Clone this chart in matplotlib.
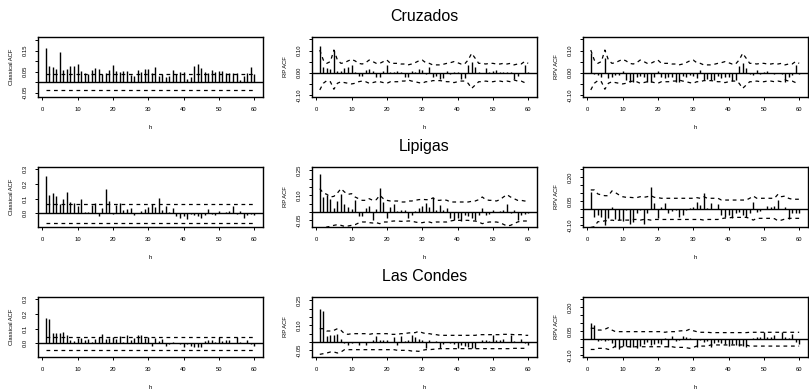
import numpy as np
import matplotlib
matplotlib.use("Agg")
import matplotlib.pyplot as plt

plt.rcParams['font.family'] = ['Liberation Sans', 'DejaVu Sans']

lags = np.arange(1, 61)
series_names = ["Cruzados", "Lipigas", "Las Condes"]

# ---------------- Cruzados ----------------
cruz_classical = [0.165, 0.077, 0.072, 0.065, 0.145, 0.060, 0.062, 0.075, 0.075, 0.089,
                  0.052, 0.042, 0.040, 0.060, 0.069, 0.065, 0.040, 0.042, 0.060, 0.083,
                  0.054, 0.049, 0.052, 0.052, 0.034, 0.029, 0.057, 0.049, 0.065, 0.062,
                  0.045, 0.072, 0.029, 0.038, 0.023, 0.029, 0.057, 0.038, 0.049, 0.049,
                  0.015, 0.023, 0.077, 0.089, 0.066, 0.048, 0.042, 0.058, 0.049, 0.052,
                  0.055, 0.045, 0.042, 0.043, 0.043, 0.011, 0.029, 0.042, 0.071, 0.038]
cruz_ci = 0.037
cruz_rp = [0.120, 0.024, 0.020, 0.015, 0.100, 0.008, 0.009, 0.020, 0.024, 0.035,
           0.003, -0.015, -0.015, 0.012, 0.017, 0.009, -0.021, -0.018, 0.009, 0.035,
           0.005, 0.003, 0.006, 0.005, -0.021, -0.021, 0.009, 0.005, 0.015, 0.012,
           -0.006, 0.024, -0.021, -0.015, -0.030, -0.026, 0.009, -0.006, 0.005, 0.002,
           -0.030, -0.026, 0.035, 0.050, 0.027, 0.005, -0.003, 0.020, 0.005, 0.009,
           0.012, 0.003, 0.002, 0.003, 0.002, -0.030, -0.015, -0.003, 0.035, 0.005]
cruz_rpv = [0.087, -0.006, -0.011, -0.018, 0.065, -0.026, -0.021, -0.011, -0.011, 0.009,
            -0.033, -0.041, -0.041, -0.021, -0.015, -0.021, -0.041, -0.041, -0.021, 0.009,
            -0.021, -0.026, -0.021, -0.021, -0.041, -0.041, -0.015, -0.021, -0.011, -0.015,
            -0.026, 0.012, -0.033, -0.030, -0.033, -0.033, -0.015, -0.026, -0.018, -0.021,
            -0.036, -0.033, 0.030, 0.045, 0.020, -0.006, -0.011, 0.012, -0.006, 0.005,
            0.009, -0.003, -0.006, -0.003, -0.006, -0.041, -0.021, -0.011, 0.035, -0.006]
cruz_up = [0.102, 0.057, 0.042, 0.050, 0.102, 0.057, 0.042, 0.045, 0.053, 0.060,
           0.053, 0.042, 0.039, 0.045, 0.057, 0.050, 0.042, 0.042, 0.050, 0.057,
           0.042, 0.042, 0.042, 0.039, 0.039, 0.035, 0.039, 0.045, 0.053, 0.057,
           0.045, 0.042, 0.035, 0.035, 0.035, 0.038, 0.042, 0.045, 0.050, 0.045,
           0.039, 0.039, 0.057, 0.087, 0.065, 0.042, 0.042, 0.039, 0.042, 0.042,
           0.039, 0.039, 0.042, 0.039, 0.042, 0.035, 0.039, 0.039, 0.050, 0.042]
cruz_lo = [-0.078, -0.048, -0.036, -0.041, -0.075, -0.048, -0.041, -0.045, -0.048, -0.051,
           -0.048, -0.041, -0.038, -0.041, -0.048, -0.045, -0.041, -0.041, -0.045, -0.048,
           -0.041, -0.041, -0.041, -0.038, -0.038, -0.033, -0.038, -0.041, -0.045, -0.048,
           -0.041, -0.041, -0.036, -0.036, -0.036, -0.038, -0.041, -0.041, -0.045, -0.041,
           -0.038, -0.038, -0.048, -0.071, -0.056, -0.041, -0.041, -0.038, -0.041, -0.041,
           -0.038, -0.038, -0.041, -0.038, -0.041, -0.033, -0.038, -0.038, -0.045, -0.041]

# ---------------- Lipigas ----------------
lip_classical = [0.257, 0.125, 0.136, 0.118, 0.064, 0.098, 0.143, 0.080, 0.068, 0.050,
                 0.098, 0.011, 0.011, 0.057, 0.068, -0.018, 0.034, 0.166, 0.084, -0.005,
                 0.057, 0.068, 0.023, 0.027, 0.034, -0.011, 0.002, 0.018, 0.027, 0.045,
                 0.064, 0.045, 0.102, 0.023, 0.050, 0.011, 0.034, -0.018, -0.030, -0.018,
                 -0.041, -0.007, -0.011, -0.018, -0.034, -0.011, 0.030, -0.007, -0.011, 0.016,
                 0.005, 0.011, 0.018, 0.050, -0.007, 0.016, -0.034, -0.011, -0.005, -0.011]
lip_ci = 0.066
lip_rp = [0.230, 0.090, 0.104, 0.080, 0.026, 0.064, 0.110, 0.046, 0.030, 0.016,
          0.070, -0.026, -0.024, 0.026, 0.036, -0.050, 0.020, 0.146, 0.060, -0.034,
          0.030, 0.046, 0.006, 0.010, 0.014, -0.034, -0.020, 0.006, 0.026, 0.034,
          0.054, 0.030, 0.090, 0.010, 0.040, 0.010, 0.026, -0.034, -0.046, -0.034,
          -0.054, -0.020, -0.026, -0.034, -0.050, -0.020, 0.026, -0.020, -0.014, 0.010,
          0.002, 0.006, 0.010, 0.050, -0.006, 0.010, -0.046, -0.020, -0.010, -0.006]
lip_rp_up = [0.140, 0.114, 0.106, 0.090, 0.094, 0.114, 0.140, 0.120, 0.106, 0.110,
             0.090, 0.080, 0.070, 0.070, 0.080, 0.070, 0.074, 0.100, 0.080, 0.070,
             0.066, 0.066, 0.066, 0.060, 0.060, 0.066, 0.066, 0.070, 0.074, 0.076,
             0.074, 0.074, 0.084, 0.070, 0.070, 0.074, 0.070, 0.060, 0.060, 0.060,
             0.060, 0.060, 0.060, 0.064, 0.066, 0.074, 0.090, 0.074, 0.070, 0.070,
             0.066, 0.074, 0.090, 0.104, 0.090, 0.080, 0.070, 0.070, 0.066, 0.066]
lip_rp_lo = [-0.120, -0.106, -0.090, -0.086, -0.080, -0.076, -0.080, -0.086, -0.084, -0.080,
             -0.076, -0.066, -0.060, -0.060, -0.064, -0.066, -0.064, -0.070, -0.060, -0.060,
             -0.056, -0.054, -0.054, -0.056, -0.056, -0.054, -0.054, -0.060, -0.064, -0.064,
             -0.060, -0.060, -0.066, -0.060, -0.060, -0.060, -0.060, -0.054, -0.050, -0.050,
             -0.050, -0.050, -0.050, -0.054, -0.054, -0.060, -0.070, -0.064, -0.060, -0.060,
             -0.060, -0.064, -0.074, -0.084, -0.080, -0.070, -0.060, -0.054, -0.054, -0.054]
lip_rpv = [0.110, -0.050, -0.035, -0.050, -0.098, -0.056, 0.012, -0.062, -0.067, -0.071,
           -0.004, -0.094, -0.077, -0.025, -0.004, -0.094, -0.025, 0.137, 0.042, -0.056,
           0.017, 0.037, -0.021, -0.008, -0.004, -0.050, -0.035, -0.004, 0.006, 0.017,
           0.048, 0.027, 0.100, 0.006, 0.042, 0.002, 0.033, -0.035, -0.046, -0.035,
           -0.056, -0.021, -0.015, -0.035, -0.050, -0.021, 0.048, -0.015, -0.008, 0.002,
           0.021, 0.012, 0.021, 0.058, 0.002, 0.017, -0.062, -0.025, -0.021, -0.025]
lip_rpv_up = [0.121, 0.121, 0.096, 0.090, 0.085, 0.085, 0.115, 0.104, 0.090, 0.079,
              0.075, 0.075, 0.073, 0.073, 0.079, 0.075, 0.079, 0.085, 0.075, 0.073,
              0.069, 0.069, 0.069, 0.069, 0.069, 0.069, 0.069, 0.069, 0.069, 0.069,
              0.073, 0.069, 0.079, 0.069, 0.069, 0.069, 0.069, 0.058, 0.058, 0.058,
              0.058, 0.058, 0.058, 0.058, 0.058, 0.069, 0.083, 0.069, 0.069, 0.069,
              0.069, 0.069, 0.069, 0.094, 0.079, 0.083, 0.069, 0.063, 0.063, 0.063]
lip_rpv_lo = [-0.113, -0.108, -0.077, -0.077, -0.071, -0.071, -0.067, -0.071, -0.067, -0.067,
              -0.067, -0.067, -0.063, -0.063, -0.067, -0.063, -0.063, -0.067, -0.063, -0.063,
              -0.063, -0.063, -0.063, -0.063, -0.063, -0.063, -0.063, -0.063, -0.063, -0.063,
              -0.063, -0.063, -0.067, -0.063, -0.063, -0.063, -0.063, -0.058, -0.054, -0.054,
              -0.050, -0.050, -0.050, -0.050, -0.050, -0.056, -0.067, -0.056, -0.056, -0.056,
              -0.056, -0.056, -0.058, -0.071, -0.067, -0.060, -0.056, -0.056, -0.056, -0.056]

# ---------------- Las Condes ----------------
lc_classical = [0.175, 0.164, 0.073, 0.073, 0.073, 0.080, 0.057, 0.023, 0.016, 0.039,
                0.039, 0.023, 0.030, 0.011, 0.027, 0.041, 0.064, 0.027, 0.039, 0.045,
                0.027, 0.050, 0.011, 0.057, 0.023, 0.034, 0.057, 0.057, 0.039, 0.045,
                -0.018, 0.034, 0.018, 0.027, -0.018, -0.005, 0.011, 0.002, -0.005, -0.027,
                -0.005, -0.018, -0.023, -0.027, -0.027, 0.018, 0.023, 0.023, 0.011, 0.045,
                0.018, 0.023, 0.023, 0.005, 0.045, 0.011, 0.005, 0.023, -0.005, -0.018]
lc_ci = 0.045
lc_rp = [0.200, 0.186, 0.034, 0.040, 0.040, 0.046, 0.020, -0.006, -0.020, -0.006,
         0.002, -0.020, 0.002, -0.020, 0.002, 0.010, 0.034, 0.010, 0.010, 0.014,
         0.002, 0.030, -0.020, 0.034, 0.006, 0.014, 0.040, 0.030, 0.020, 0.014,
         -0.034, 0.014, 0.002, 0.006, -0.034, -0.014, 0.002, -0.006, -0.014, -0.034,
         -0.020, -0.026, -0.030, -0.034, -0.034, 0.002, 0.010, 0.014, 0.006, 0.040,
         0.010, 0.014, 0.020, 0.002, 0.040, 0.006, 0.002, 0.020, -0.006, -0.020]
lc_rp_up = [0.080, 0.080, 0.066, 0.066, 0.070, 0.080, 0.070, 0.050, 0.046, 0.050,
            0.050, 0.050, 0.050, 0.050, 0.046, 0.050, 0.050, 0.050, 0.050, 0.050,
            0.046, 0.046, 0.046, 0.050, 0.050, 0.054, 0.056, 0.056, 0.064, 0.056,
            0.050, 0.050, 0.046, 0.044, 0.040, 0.040, 0.040, 0.040, 0.040, 0.040,
            0.040, 0.040, 0.040, 0.040, 0.040, 0.044, 0.044, 0.044, 0.044, 0.044,
            0.044, 0.044, 0.046, 0.046, 0.046, 0.044, 0.044, 0.044, 0.040, 0.040]
lc_rp_lo = [-0.074, -0.070, -0.066, -0.060, -0.060, -0.066, -0.060, -0.046, -0.046, -0.046,
            -0.046, -0.046, -0.046, -0.046, -0.046, -0.046, -0.046, -0.046, -0.046, -0.046,
            -0.046, -0.046, -0.050, -0.050, -0.050, -0.050, -0.054, -0.054, -0.056, -0.050,
            -0.046, -0.046, -0.044, -0.042, -0.040, -0.040, -0.040, -0.040, -0.040, -0.040,
            -0.040, -0.040, -0.040, -0.040, -0.040, -0.040, -0.040, -0.040, -0.040, -0.040,
            -0.040, -0.040, -0.040, -0.040, -0.040, -0.038, -0.038, -0.038, -0.038, -0.038]
lc_rpv = [0.100, 0.090, -0.008, -0.004, -0.008, -0.004, -0.025, -0.050, -0.062, -0.042,
          -0.042, -0.050, -0.046, -0.056, -0.042, -0.029, -0.015, -0.035, -0.029, -0.021,
          -0.029, 0.006, -0.050, 0.021, -0.008, -0.004, 0.021, 0.017, 0.006, 0.002,
          -0.050, -0.004, -0.015, -0.008, -0.046, -0.021, -0.015, -0.021, -0.029, -0.042,
          -0.029, -0.035, -0.042, -0.042, -0.046, 0.002, 0.006, 0.017, 0.012, 0.048,
          0.012, 0.017, 0.027, 0.002, 0.048, 0.012, 0.006, 0.033, -0.015, -0.029]
lc_rpv_up = [0.069, 0.069, 0.058, 0.058, 0.063, 0.073, 0.058, 0.048, 0.048, 0.048,
             0.048, 0.048, 0.048, 0.048, 0.048, 0.048, 0.048, 0.048, 0.048, 0.048,
             0.048, 0.044, 0.048, 0.048, 0.048, 0.052, 0.054, 0.054, 0.063, 0.054,
             0.048, 0.044, 0.044, 0.044, 0.042, 0.042, 0.042, 0.042, 0.042, 0.042,
             0.042, 0.042, 0.042, 0.042, 0.042, 0.044, 0.044, 0.044, 0.044, 0.044,
             0.044, 0.044, 0.044, 0.044, 0.044, 0.044, 0.044, 0.044, 0.044, 0.044]
lc_rpv_lo = [-0.063, -0.063, -0.056, -0.056, -0.056, -0.063, -0.056, -0.042, -0.050, -0.046,
             -0.046, -0.046, -0.046, -0.046, -0.046, -0.046, -0.046, -0.046, -0.046, -0.046,
             -0.046, -0.046, -0.046, -0.046, -0.050, -0.050, -0.050, -0.052, -0.056, -0.050,
             -0.042, -0.042, -0.042, -0.042, -0.035, -0.035, -0.035, -0.035, -0.035, -0.035,
             -0.035, -0.035, -0.035, -0.035, -0.035, -0.042, -0.042, -0.042, -0.042, -0.042,
             -0.042, -0.042, -0.042, -0.042, -0.042, -0.042, -0.042, -0.042, -0.042, -0.042]

x_ticks = [0, 10, 20, 30, 40, 50, 60]

# ---------------- layout ----------------
W, H = 809, 389
fig = plt.figure(figsize=(W / 100, H / 100), dpi=100)
col_left = [38, 312, 583]
row_top = [37, 167, 297]
aw, ah = 225, 60

DASH = (0, (3, 3))
BAR_LW = 1.0


def make_axes(r, c):
    return fig.add_axes([col_left[c] / W, 1 - (row_top[r] + ah) / H, aw / W, ah / H])


def style(ax, ylim, yticks, ylabs, ylabel):
    ax.set_xlim(-1.2, 62.5)
    ax.set_ylim(*ylim)
    ax.set_xticks(x_ticks)
    ax.set_xticklabels([str(t) for t in x_ticks])
    ax.set_yticks(yticks)
    ax.set_yticklabels(ylabs, rotation=90, va='center')
    ax.tick_params(direction='out', length=2.4, width=0.7, labelsize=4.2, pad=5)
    for s in ax.spines.values():
        s.set_linewidth(1.0)
    ax.set_xlabel("h", fontsize=4.2)
    ax.xaxis.set_label_coords(0.5, -0.46)
    ax.set_ylabel(ylabel, fontsize=4.2)
    ax.yaxis.set_label_coords(-0.105, 0.5)
    ax.axhline(0, color='black', lw=1.0, zorder=2)


panels = [
    (cruz_classical, cruz_ci, cruz_rp, cruz_up, cruz_lo, cruz_rpv, cruz_up, cruz_lo),
    (lip_classical, lip_ci, lip_rp, lip_rp_up, lip_rp_lo, lip_rpv, lip_rpv_up, lip_rpv_lo),
    (lc_classical, lc_ci, lc_rp, lc_rp_up, lc_rp_lo, lc_rpv, lc_rpv_up, lc_rpv_lo),
]

cls_ylim = [(-0.070, 0.215), (-0.093, 0.316), (-0.093, 0.316)]
cls_ticks = [([-0.05, 0.0, 0.05, 0.10, 0.15, 0.20], [-0.05, 0.05, 0.15]),
             ([0.0, 0.1, 0.2, 0.3], [0.0, 0.1, 0.2, 0.3]),
             ([0.0, 0.1, 0.2, 0.3], [0.0, 0.1, 0.2, 0.3])]
rp_ylim = [(-0.110, 0.161), (-0.090, 0.270), (-0.090, 0.270)]
rp_ticks = [([-0.10, -0.05, 0.0, 0.05, 0.10, 0.15], [-0.10, 0.0, 0.10]),
            ([-0.05, 0.0, 0.05, 0.10, 0.15, 0.20, 0.25], [-0.05, 0.10, 0.25]),
            ([-0.05, 0.0, 0.05, 0.10, 0.15, 0.20, 0.25], [-0.05, 0.10, 0.25])]
rpv_ylim = [(-0.110, 0.161), (-0.110, 0.264), (-0.110, 0.264)]
rpv_ticks = [([-0.10, -0.05, 0.0, 0.05, 0.10, 0.15], [-0.10, 0.0, 0.10]),
             ([-0.10, -0.05, 0.0, 0.05, 0.10, 0.15, 0.20, 0.25], [-0.10, 0.05, 0.20]),
             ([-0.10, -0.05, 0.0, 0.05, 0.10, 0.15, 0.20, 0.25], [-0.10, 0.05, 0.20])]


def labels_for(ticks, shown, one_dec=False):
    out = []
    for t in ticks:
        if any(abs(t - s) < 1e-9 for s in shown):
            out.append(f"{t:.1f}" if one_dec else f"{t:.2f}")
        else:
            out.append("")
    return out


for r, (cls, ci, rp, rpu, rpl, rpv, rpvu, rpvl) in enumerate(panels):
    # Classical ACF
    ax = make_axes(r, 0)
    ax.vlines(lags, 0, cls, color='black', lw=BAR_LW, zorder=2)
    ax.plot([1, 60], [ci, ci], color='black', lw=0.9, linestyle=DASH, zorder=3)
    ax.plot([1, 60], [-ci, -ci], color='black', lw=0.9, linestyle=DASH, zorder=3)
    t, s = cls_ticks[r]
    style(ax, cls_ylim[r], t, labels_for(t, s, one_dec=(r > 0)), "Classical ACF")

    # RP ACF
    ax = make_axes(r, 1)
    ax.vlines(lags, 0, rp, color='black', lw=BAR_LW, zorder=2)
    ax.plot(lags, rpu, color='black', lw=0.9, linestyle=DASH, zorder=3)
    ax.plot(lags, rpl, color='black', lw=0.9, linestyle=DASH, zorder=3)
    t, s = rp_ticks[r]
    style(ax, rp_ylim[r], t, labels_for(t, s), "RP ACF")

    # RPV ACF
    ax = make_axes(r, 2)
    ax.vlines(lags, 0, rpv, color='black', lw=BAR_LW, zorder=2)
    ax.plot(lags, rpvu, color='black', lw=0.9, linestyle=DASH, zorder=3)
    ax.plot(lags, rpvl, color='black', lw=0.9, linestyle=DASH, zorder=3)
    t, s = rpv_ticks[r]
    style(ax, rpv_ylim[r], t, labels_for(t, s), "RPV ACF")

    fig.text((col_left[1] + aw / 2) / W, 1 - (row_top[r] - 16) / H, series_names[r],
             ha='center', va='baseline', fontsize=11.5)

fig.savefig("out.png", dpi=100)
